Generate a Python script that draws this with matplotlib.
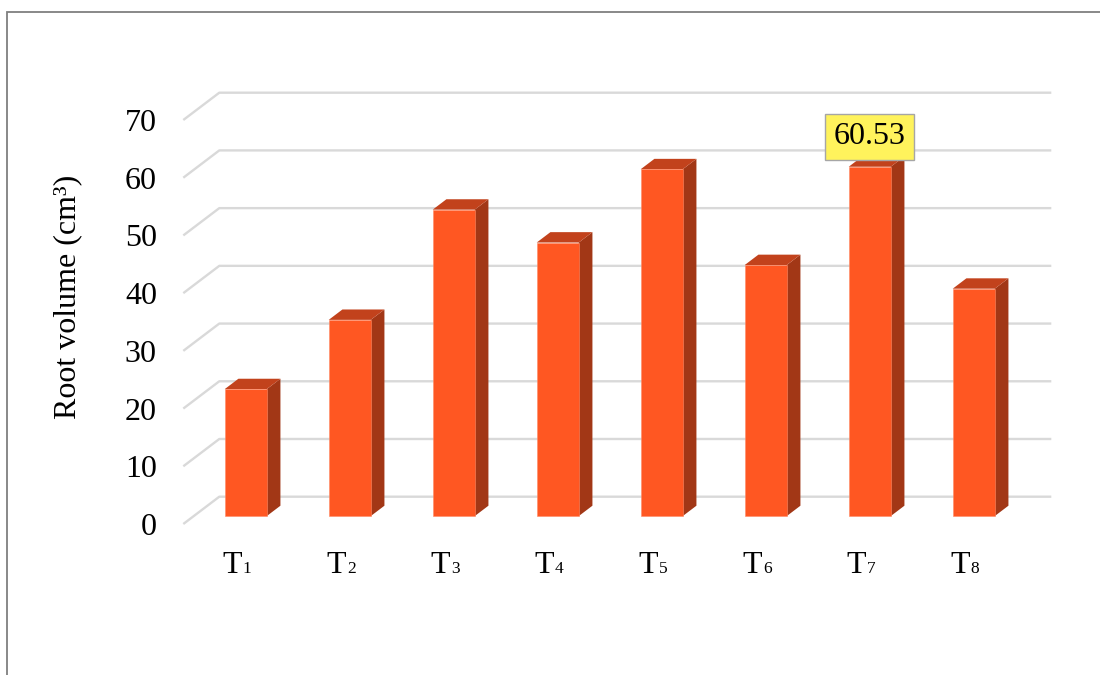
import matplotlib
matplotlib.use('Agg')
import matplotlib.pyplot as plt
from matplotlib.patches import Polygon, Rectangle

# ---- data ----
categories = ['T1', 'T2', 'T3', 'T4', 'T5', 'T6', 'T7', 'T8']
values = [22.0, 34.0, 53.1, 47.4, 60.1, 43.5, 60.53, 39.4]
y_ticks = [0, 10, 20, 30, 40, 50, 60, 70]
y_label = 'Root volume (cm³)'
highlight_index = 6
highlight_text = '60.53'

# ---- style ----
W, H = 1100, 675
SERIF = ['Liberation Serif', 'DejaVu Serif']
FRONT = '#FF5722'
TOP = '#C2421C'
SIDE = '#A23716'
GRID = '#D9D9D9'

fig = plt.figure(figsize=(W / 100, H / 100), dpi=100)
# axes = front plane of the pseudo-3D box
ax_l, ax_b, ax_w, ax_h = 183.3, 151.0, 832.0, 404.0
ax = fig.add_axes([ax_l / W, ax_b / H, ax_w / W, ax_h / H])
n = len(categories)
ax.set_xlim(-0.5, n - 0.5)
ax.set_ylim(y_ticks[0], y_ticks[-1])
for s in ax.spines.values():
    s.set_visible(False)
ax.patch.set_visible(False)

# depth vector (pixels) converted to data units
px_per_x = ax_w / n
px_per_y = ax_h / (y_ticks[-1] - y_ticks[0])
DX = 36.0 / px_per_x
DY = 27.3 / px_per_y
f0, f1 = 0.29, 0.67
hw = 0.202

# gridlines: diagonal on left wall + back wall line
for v in y_ticks:
    ax.plot([-0.5, -0.5 + DX, n - 0.5 + DX], [v, v + DY, v + DY],
            color=GRID, lw=1.7, clip_on=False, zorder=1, solid_capstyle='butt')

# bars
xs = list(range(n))
ax.bar([x + f0 * DX for x in xs], values, width=2 * hw, bottom=f0 * DY,
       color=FRONT, edgecolor='#FF8A65', linewidth=0.4, zorder=3, clip_on=False)
for x, v in zip(xs, values):
    x0 = x - hw
    x1 = x + hw
    a0x, a0y = f0 * DX, f0 * DY
    a1x, a1y = f1 * DX, f1 * DY
    side = Polygon([(x1 + a0x, a0y), (x1 + a1x, a1y), (x1 + a1x, v + a1y),
                    (x1 + a0x, v + a0y)], closed=True, facecolor=SIDE,
                   edgecolor='none', zorder=2.5, clip_on=False)
    top = Polygon([(x0 + a0x, v + a0y), (x1 + a0x, v + a0y), (x1 + a1x, v + a1y),
                   (x0 + a1x, v + a1y)], closed=True, facecolor=TOP,
                  edgecolor='none', zorder=2.5, clip_on=False)
    ax.add_patch(side)
    ax.add_patch(top)

# y ticks
ax.set_yticks(y_ticks)
ax.set_yticklabels([str(t) for t in y_ticks], family=SERIF, fontsize=23)
ax.tick_params(axis='y', length=0, pad=19)
ax.set_xticks([])

# x category labels: large "T" + small digit on the same baseline
for x, lab in zip(xs, categories):
    main, sub = lab[0], lab[1:]
    ax.annotate(main, xy=(x, 0), xytext=(7, -49.3), textcoords='offset pixels',
                ha='right', va='baseline', family=SERIF, fontsize=23,
                annotation_clip=False)
    ax.annotate(sub, xy=(x, 0), xytext=(7.5, -49.3), textcoords='offset pixels',
                ha='left', va='baseline', family=SERIF, fontsize=12.5,
                annotation_clip=False)

fig.text(68 / W, 1 - 297 / H, y_label, rotation=90, ha='center', va='center',
         family=SERIF, fontsize=23)

# data label on highlighted bar
hv = values[highlight_index]
ax.annotate(highlight_text, xy=(highlight_index + f0 * DX, hv + f0 * DY),
            xytext=(0, 30), textcoords='offset pixels', ha='center', va='center',
            family=SERIF, fontsize=23, zorder=5,
            bbox=dict(boxstyle='square,pad=0.27', facecolor='#FFF35C',
                      edgecolor='#A6A6A6', linewidth=1.0))

# outer frame (only top and left visible)
fig.add_artist(Rectangle((7 / W, -0.1), 1.2, (H - 12) / H + 0.1,
                         transform=fig.transFigure, fill=False,
                         edgecolor='#7F7F7F', linewidth=1.3))

fig.savefig('out.png', dpi=100)
